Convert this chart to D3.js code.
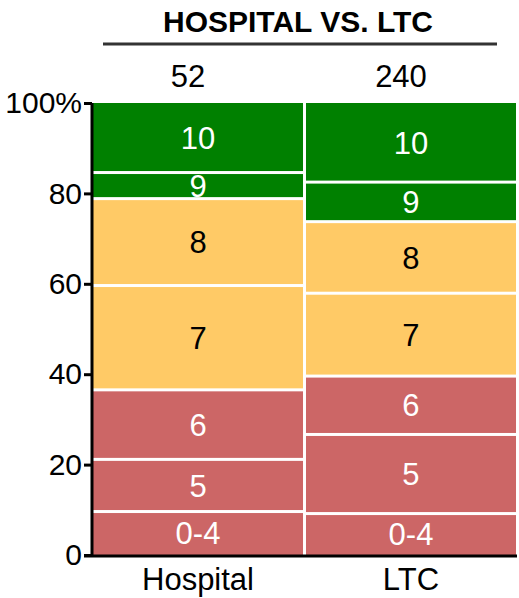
<!DOCTYPE html>
<html>
<head>
<meta charset="utf-8">
<script src="https://cdn.jsdelivr.net/npm/d3@7"></script>
<style>
  body { margin: 0; background: #fff; }
  svg { display: block; font-family: "Liberation Sans", Arial, sans-serif; }
</style>
</head>
<body>
<svg id="chart" width="519" height="598"></svg>
<script>
// ---- data ----
const title = "HOSPITAL VS. LTC";
const groups = ["Hospital", "LTC"];
const groupN = [52, 240];
const scoreCategories = ["0-4", "5", "6", "7", "8", "9", "10"];
const hospitalCounts = [5, 6, 8, 12, 10, 3, 8];
const ltcCounts = [22, 42, 31, 44, 38, 21, 42];
const categoryColors = ["#CC6666", "#CC6666", "#CC6666", "#FFCA66", "#FFCA66", "#008000", "#008000"];
const categoryTextColors = ["#fff", "#fff", "#fff", "#000", "#000", "#fff", "#fff"];
const yTicks = [0, 20, 40, 60, 80, 100];
const yTickLabels = ["0", "20", "40", "60", "80", "100%"];

const svg = d3.select("#chart");
const y = d3.scaleLinear().domain([0, 100]).range([555, 103]);
const x = d3.scaleBand().domain(groups).range([93, 516]).paddingInner(0.014);

const countsByGroup = [hospitalCounts, ltcCounts];
const segments = [];
groups.forEach((g, gi) => {
  const counts = countsByGroup[gi];
  const total = d3.sum(counts);
  let cum = 0;
  counts.forEach((c, ci) => {
    const p0 = cum / total * 100;
    cum += c;
    const p1 = cum / total * 100;
    segments.push({ group: g, ci, p0, p1 });
  });
});

const gap = 1.5;
svg.append("g").selectAll("rect").data(segments).join("rect")
  .attr("x", d => x(d.group))
  .attr("width", x.bandwidth())
  .attr("y", d => y(d.p1) + (d.p1 >= 99.999 ? 0 : gap))
  .attr("height", d => (y(d.p0) - (d.p0 <= 0.001 ? 0 : gap)) - (y(d.p1) + (d.p1 >= 99.999 ? 0 : gap)))
  .attr("fill", d => categoryColors[d.ci]);

svg.append("g").selectAll("text").data(segments).join("text")
  .attr("x", d => x(d.group) + x.bandwidth() / 2)
  .attr("y", d => y((d.p0 + d.p1) / 2))
  .attr("dy", "0.36em")
  .attr("text-anchor", "middle")
  .attr("font-size", 31)
  .attr("fill", d => categoryTextColors[d.ci])
  .text(d => scoreCategories[d.ci]);

// y axis
const yAxis = d3.axisLeft(y).tickValues(yTicks).tickFormat((d, i) => yTickLabels[i]).tickSize(8).tickPadding(2);
const gy = svg.append("g").attr("transform", "translate(92,0)").call(yAxis);
gy.select(".domain").attr("stroke", "#000").attr("stroke-width", 3).attr("d", `M0,${y(100)}V${y(0)+1.5}`);
gy.selectAll(".tick line").attr("stroke", "#000").attr("stroke-width", 3);
gy.selectAll(".tick text").attr("font-size", 30).attr("fill", "#000").attr("font-family", "Liberation Sans, Arial, sans-serif");

// x axis
const xAxis = d3.axisBottom(x).tickSize(0).tickPadding(12);
const gx = svg.append("g").attr("transform", `translate(0,${y(0) + 1})`).call(xAxis);
gx.select(".domain").attr("stroke", "#000").attr("stroke-width", 3).attr("d", "M84,0H517");
gx.selectAll(".tick text").attr("font-size", 31).attr("fill", "#000").attr("font-family", "Liberation Sans, Arial, sans-serif");

// title
svg.append("text").attr("x", 298).attr("y", 32).attr("text-anchor", "middle")
  .attr("font-size", 30).attr("font-weight", "bold").attr("fill", "#000").text(title);
svg.append("line").attr("x1", 103).attr("x2", 497).attr("y1", 44).attr("y2", 44)
  .attr("stroke", "#333").attr("stroke-width", 3);

// N labels
svg.append("g").selectAll("text").data(groups).join("text")
  .attr("x", d => x(d) + x.bandwidth() / 2 - 10)
  .attr("y", 87)
  .attr("text-anchor", "middle")
  .attr("font-size", 31)
  .attr("fill", "#000")
  .text((d, i) => groupN[i]);
</script>
</body>
</html>
